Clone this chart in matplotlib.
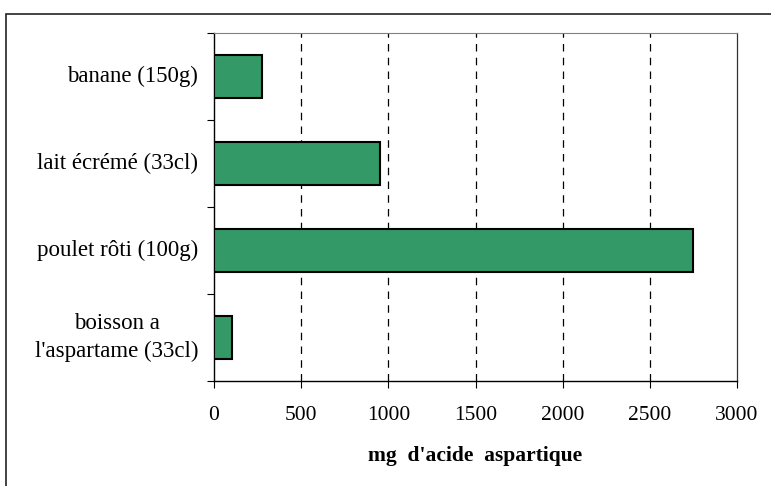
import matplotlib.pyplot as plt
from matplotlib.patches import Rectangle

categories = ["banane (150g)", "lait écrémé (33cl)", "poulet rôti (100g)", "boisson a\nl'aspartame (33cl)"]
values = [275, 955, 2745, 105]
xticks = [0, 500, 1000, 1500, 2000, 2500, 3000]

plt.rcParams['font.family'] = ['Liberation Serif', 'DejaVu Serif']

fig = plt.figure(figsize=(7.71, 4.86), dpi=100)
ax = fig.add_axes([214 / 771, 1 - 381 / 486, 523 / 771, 348 / 486])

pos = list(range(len(categories)))[::-1]
ax.barh(pos, values, height=0.5, color='#339966', edgecolor='black', linewidth=1.5, zorder=3)

ax.set_xlim(0, 3000)
ax.set_ylim(-0.5, 3.5)
ax.set_xticks(xticks)
ax.set_xticklabels([str(t) for t in xticks], fontsize=15.5)
ax.tick_params(axis='x', direction='out', length=5, pad=13)

# category labels placed at centers, ticks at the boundaries
ax.set_yticks([p - 0.5 for p in range(5)])
ax.set_yticklabels([])
ax.tick_params(axis='y', direction='out', length=5)
for p, c in zip(pos, categories):
    ax.text(-0.03, p, c, transform=ax.get_yaxis_transform(), ha='right', va='center',
            fontsize=16.5, linespacing=1.4, multialignment='center')

for t in xticks[1:-1]:
    ax.axvline(t, color='black', linestyle=(0, (6, 5)), linewidth=0.9, zorder=1)

ax.spines['top'].set_color('#808080')
ax.spines['right'].set_color('#333333')
ax.spines['right'].set_linewidth(0.9)
ax.spines['left'].set_linewidth(1.0)
ax.spines['bottom'].set_linewidth(1.0)

ax.set_xlabel("mg  d'acide  aspartique", fontsize=15.5, fontweight='bold', labelpad=15)

# outer frame of the chart area
fig.patches.append(Rectangle((6 / 771, -0.1), 1.2, 1 - 14 / 486 + 0.1, transform=fig.transFigure,
                             fill=False, edgecolor='#222222', linewidth=1.2))

fig.savefig('out.png', dpi=100)
